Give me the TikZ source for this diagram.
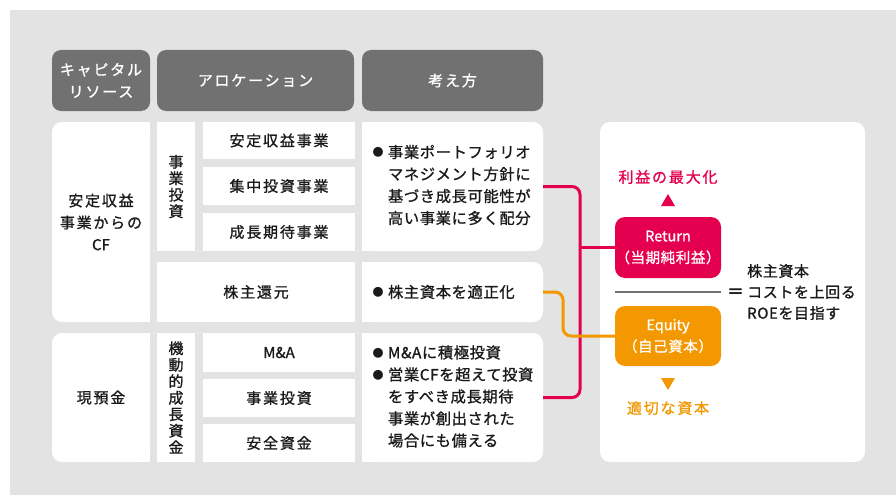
\documentclass[tikz,border=0pt]{standalone}
\usepackage{fontspec}
\setmainfont{Noto Sans CJK JP}[LetterSpace=12, FakeBold=1]
\newfontfamily\ktext{Noto Sans CJK JP}[LetterSpace=4, FakeBold=1]
\newfontfamily\lat{Noto Sans CJK JP}[FakeBold=1]
\newfontfamily\heavy{Noto Sans CJK JP}[FakeBold=4]
\newfontfamily\plain{Noto Sans CJK JP}
\definecolor{bgc}{HTML}{E3E3E3}
\definecolor{hdc}{HTML}{717171}
\definecolor{pk}{HTML}{E5004F}
\definecolor{og}{HTML}{F39800}
\definecolor{txc}{HTML}{1A1A1A}
\newcommand\bul{\makebox[15.5pt][l]{\raisebox{1.2pt}{\plain\fontsize{11}{11}\selectfont ●}}}
\newcommand\ind{\hphantom{\bul}}
\begin{document}
\begin{tikzpicture}[x=1pt,y=-1pt,
  every node/.style={font=\fontsize{15}{22}\selectfont, text=txc, inner sep=0pt},
  hbox/.style={fill=hdc, rounded corners=9pt, text=white, align=center},
  wbox/.style={fill=white, align=center},
  rbox/.style={fill=white, rounded corners=10pt, align=center},
  kbox/.style={fill=white, rounded corners=10pt, minimum width=181pt},
  ktxt/.style={anchor=west, align=left, font=\ktext\fontsize{15.3}{22}\selectfont},
  vtext/.style={fill=white, align=center, font=\fontsize{15}{16.5}\selectfont},
  cbox/.style={rounded corners=10pt, text=white, align=center, minimum width=106pt, font=\ktext\fontsize{14.5}{21.5}\selectfont},
  conn/.style={line width=3pt, rounded corners=8pt}
]
\useasboundingbox (0,0) rectangle (896,495);
\fill[bgc] (10,10) rectangle (896,495);

% headers
\node[hbox, minimum width=98pt, minimum height=61pt] (h1) at (101,80.5) {キャピタル\\リソース};
\node[hbox, minimum width=197pt, minimum height=61pt] (h2) at (255.5,80.5) {アロケーション};
\node[hbox, minimum width=181pt, minimum height=61pt] (h3) at (452.5,80.5) {考え方};

% row block 1
\node[rbox, minimum width=98pt, minimum height=200pt] (cf) at (101,222) {安定収益\\事業からの\\{\lat CF}};
\node[vtext, minimum width=38pt, minimum height=129pt] (jt) at (176,186.5) {事\\業\\投\\資};
\node[wbox, minimum width=152pt, minimum height=37pt] (a1) at (279,140.5) {安定収益事業};
\node[wbox, minimum width=152pt, minimum height=38pt] (a2) at (279,186) {集中投資事業};
\node[wbox, minimum width=152pt, minimum height=38pt] (a3) at (279,232) {成長期待事業};
\node[kbox, minimum height=129pt] (k1) at (452.5,186.5) {};
\node[wbox, minimum width=198pt, minimum height=60pt] (sr) at (256,292) {株主還元};
\node[kbox, minimum height=60pt] (k2) at (452.5,292) {};

% row block 2
\node[rbox, minimum width=98pt, minimum height=129pt] (gy) at (101,397.5) {現預金};
\node[vtext, minimum width=38pt, minimum height=129pt] (kd) at (176,397.5) {機\\動\\的\\成\\長\\資\\金};
\node[wbox, minimum width=152pt, minimum height=39pt] (b1) at (279,352.5) {{\lat M\&A}};
\node[wbox, minimum width=152pt, minimum height=38pt] (b2) at (279,398) {事業投資};
\node[wbox, minimum width=152pt, minimum height=38pt] (b3) at (279,443) {安全資金};
\node[kbox, minimum height=129pt] (k3) at (452.5,397.5) {};

% sharp corner patches
\foreach \n in {cf,gy}{
  \fill[white] (\n.north east) rectangle ([xshift=-12pt,yshift=-12pt]\n.north east);
  \fill[white] (\n.south east) rectangle ([xshift=-12pt,yshift=12pt]\n.south east);
}
\foreach \n in {k1,k2,k3}{
  \fill[white] (\n.north west) rectangle ([xshift=12pt,yshift=-12pt]\n.north west);
  \fill[white] (\n.south west) rectangle ([xshift=12pt,yshift=12pt]\n.south west);
}

% texts of the 考え方 boxes
\node[ktxt] (k1t) at ([xshift=10.5pt,yshift=1.5pt]k1.west) {\bul 事業ポートフォリオ\\\ind マネジメント方針に\\\ind 基づき成長可能性が\\\ind 高い事業に多く配分};
\node[ktxt] (k2t) at ([xshift=10.5pt]k2.west) {\bul 株主資本を適正化};
\node[ktxt] (k3t) at ([xshift=10.5pt,yshift=1pt]k3.west) {\bul M\&Aに積極投資\\\bul 営業CFを超えて投資\\\ind をすべき成長期待\\\ind 事業が創出された\\\ind 場合にも備える};

% right panel
\node[rbox, minimum width=265pt, minimum height=340pt] (rp) at (732.5,292) {};
\node[cbox, fill=pk, minimum height=61pt] (ret) at (668,247.5) {{\lat Return}\\（当期純利益）};
\node[cbox, fill=og, minimum height=60pt] (eq) at (668,336) {{\lat Equity}\\（自己資本）};
\node[text=pk] (mx) at (668,177) {利益の最大化};
\node[text=og] (ap) at (668,408) {適切な資本};
\fill[pk] (661,206) -- (675,206) -- (668,194) -- cycle;
\fill[og] (661,378) -- (675,378) -- (668,390) -- cycle;
\coordinate (dl) at (615,292);
\coordinate (dr) at (721,292);
\draw[hdc, line width=1.5pt] (dl) -- (dr);
\node[font=\heavy\fontsize{16}{22}\selectfont] (eqs) at (735.5,293) {＝};
\node[anchor=west, align=left, font=\ktext\fontsize{15}{21}\selectfont] (roe) at (747,292) {株主資本\\コストを上回る\\ROEを目指す};

% connectors
\coordinate (pv) at (580,0);
\coordinate (ov) at (563,0);
\draw[conn, pk] (k1.east) -- (k1.east -| pv) -- (k3.east -| pv) -- (k3.east);
\draw[line width=3pt, pk] (ret.west -| pv) -- (ret.west);
\draw[conn, og] (k2.east) -- (k2.east -| ov) -- (eq.west -| ov) -- (eq.west);
\end{tikzpicture}
\end{document}
